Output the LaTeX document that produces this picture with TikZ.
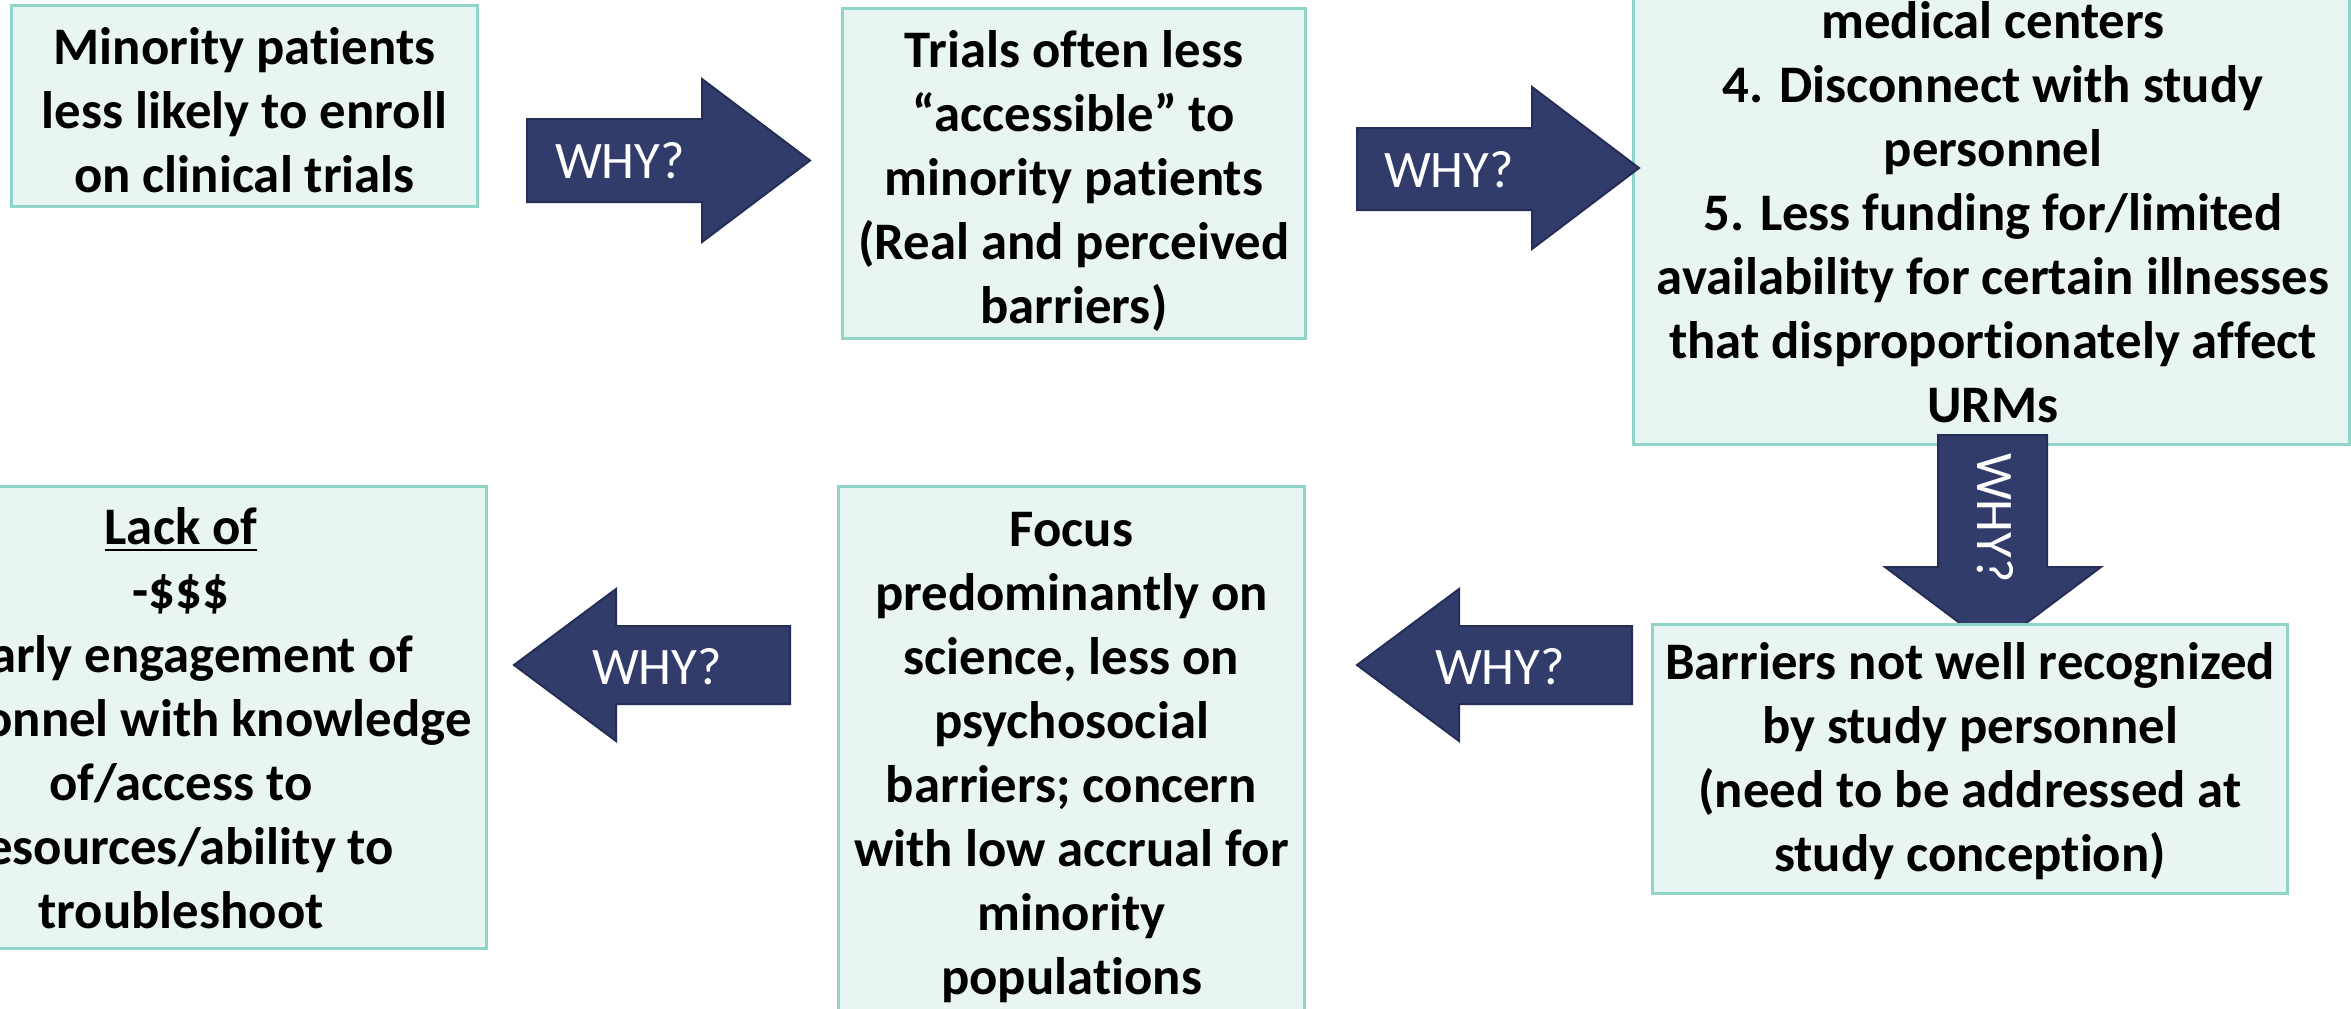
\documentclass[tikz,border=0pt]{standalone}
\usepackage{fontspec}
\setmainfont{Carlito}[Ligatures={NoCommon}]
\definecolor{boxfill}{RGB}{233,245,242}
\definecolor{boxline}{RGB}{145,212,200}
\definecolor{arrfill}{RGB}{49,60,106}
\definecolor{arrline}{RGB}{36,46,86}
\tikzset{
  box/.style={draw=boxline, fill=boxfill, line width=0.03cm, inner sep=0pt, outer sep=0pt},
  txt/.style={align=center, font=\fontsize{15}{18.21}\selectfont\bfseries, inner sep=0pt},
  why/.style={text=white, font=\fontsize{15}{18}\selectfont, inner sep=0pt},
  arr/.style={draw=arrline, fill=arrfill, line width=0.02cm, line join=miter},
}
\begin{document}
\begin{tikzpicture}[x=0.01cm, y=-0.01cm]
\useasboundingbox (0,0) rectangle (2351,1009);
\clip (0,0) rectangle (2351,1009);
\fill[white] (0,0) rectangle (2351,1009);

% top row boxes
\node[box, minimum width=4.65cm, minimum height=2.00cm] (b1) at (244.5,106) {};
\node[txt] (t1) at (244.5,116) {\strut Minority patients\\less likely to enroll\\on clinical trials\strut};

\node[box, minimum width=4.62cm, minimum height=3.29cm] (b2) at (1074,173.5) {};
\node[txt] (t2) at (1074,183) {\strut Trials often less\\“accessible” to\\minority patients\\(Real and perceived\\barriers)\strut};

\node[box, minimum width=7.15cm, minimum height=6.44cm] (b3) at (1991.5,122) {};
\node[txt] (t3) at (1993,218) {\strut medical centers\\4. Disconnect with study\\personnel\\5. Less funding for/limited\\availability for certain illnesses\\that disproportionately affect\\URMs\strut};

% arrows top row
\draw[arr] (527,119) -- (702,119) -- (702,79) -- (810,160.5) -- (702,242) -- (702,202) -- (527,202) -- cycle;
\node[why] (w1) at (620,161) {WHY?};
\draw[arr] (1357,128) -- (1532,128) -- (1532,87) -- (1639,168) -- (1532,249) -- (1532,210) -- (1357,210) -- cycle;
\node[why] (w2) at (1449,170) {WHY?};

% down arrow
\draw[arr] (1938,435) -- (2047,435) -- (2047,567) -- (2101,567) -- (1993,648) -- (1885,567) -- (1938,567) -- cycle;
\node[why, rotate=-90] (wd) at (1995,518) {WHY?};

% bottom row boxes
\node[box, minimum width=6.34cm, minimum height=2.68cm] (b4) at (1970,759) {};
\node[txt] (t4) at (1970,763) {\strut Barriers not well recognized\\by study personnel\\(need to be addressed at\\study conception)\strut};

\node[box, minimum width=4.65cm, minimum height=6.13cm] (b5) at (1071.5,793.5) {};
\node[txt] (t5) at (1071.5,758) {\strut Focus\\predominantly on\\science, less on\\psychosocial\\barriers; concern\\with low accrual for\\minority\\populations\strut};

\node[box, minimum width=6.10cm, minimum height=4.61cm] (b6) at (181,717.5) {};
\node[txt] (t6) at (181,724) {\strut\underline{Lack of}\\-\$\$\$\\-Early engagement of\\personnel with knowledge\\of/access to\\resources/ability to\\troubleshoot\strut};

% arrows bottom row
\draw[arr] (1632,626) -- (1459,626) -- (1459,589) -- (1357,665) -- (1459,741) -- (1459,704) -- (1632,704) -- cycle;
\node[why] (w3) at (1500,667) {WHY?};
\draw[arr] (790,626) -- (616,626) -- (616,589) -- (514,665) -- (616,741) -- (616,704) -- (790,704) -- cycle;
\node[why] (w4) at (657,667) {WHY?};
\end{tikzpicture}
\end{document}
